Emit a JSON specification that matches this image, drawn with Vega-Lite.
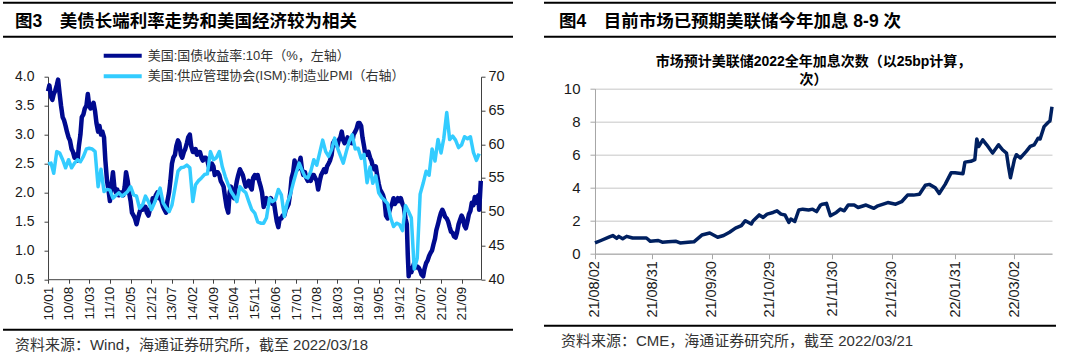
{
  "$schema": "https://vega.github.io/schema/vega-lite/v6.json",
  "background": "white",
  "padding": {"left": 2, "top": 1.7, "right": 0, "bottom": 0},
  "spacing": 28,
  "resolve": {"scale": {"color": "independent"}, "legend": {"color": "independent"}},
  "datasets": {
    "leftHeader": [{"t": "图3　美债长端利率走势和美国经济较为相关"}],
    "leftFooter": [{"t": "资料来源：Wind，海通证券研究所，截至 2022/03/18"}],
    "rightHeader": [{"t": "图4　目前市场已预期美联储今年加息 8-9 次"}],
    "rightFooter": [{"t": "资料来源：CME，海通证券研究所，截至 2022/03/21"}],
    "yield": [
      {"d":"2010-01-01","v":3.75},{"d":"2010-01-15","v":3.85},{"d":"2010-02-01","v":3.65},{"d":"2010-02-15","v":3.6},{"d":"2010-03-01","v":3.7},{"d":"2010-03-15","v":3.75},{"d":"2010-04-01","v":3.85},{"d":"2010-04-15","v":3.95},{"d":"2010-05-01","v":3.7},{"d":"2010-05-15","v":3.5},{"d":"2010-06-01","v":3.3},{"d":"2010-06-15","v":3.25},{"d":"2010-07-01","v":3.15},{"d":"2010-07-15","v":3.05},{"d":"2010-08-01","v":2.95},{"d":"2010-08-15","v":2.9},{"d":"2010-09-01","v":2.75},{"d":"2010-09-15","v":2.7},{"d":"2010-10-01","v":2.6},{"d":"2010-10-15","v":2.65},{"d":"2010-11-01","v":2.55},{"d":"2010-11-15","v":2.8},{"d":"2010-12-01","v":3.0},{"d":"2010-12-15","v":3.3},
      {"d":"2011-01-01","v":3.35},{"d":"2011-01-15","v":3.45},{"d":"2011-02-01","v":3.5},{"d":"2011-02-15","v":3.7},{"d":"2011-03-01","v":3.5},{"d":"2011-03-15","v":3.45},{"d":"2011-04-01","v":3.5},{"d":"2011-04-15","v":3.55},{"d":"2011-05-01","v":3.4},{"d":"2011-05-15","v":3.2},{"d":"2011-06-01","v":3.05},{"d":"2011-06-15","v":3.15},{"d":"2011-07-01","v":3.0},{"d":"2011-07-15","v":3.05},{"d":"2011-08-01","v":2.95},{"d":"2011-08-15","v":2.55},{"d":"2011-09-01","v":2.2},{"d":"2011-09-15","v":2.05},{"d":"2011-10-01","v":1.85},{"d":"2011-10-15","v":2.1},{"d":"2011-11-01","v":2.35},{"d":"2011-11-15","v":2.1},{"d":"2011-12-01","v":2.0},{"d":"2011-12-15","v":2.05},
      {"d":"2012-01-01","v":1.95},{"d":"2012-01-15","v":2.0},{"d":"2012-02-01","v":2.0},{"d":"2012-02-15","v":1.95},{"d":"2012-03-01","v":2.1},{"d":"2012-03-15","v":2.35},{"d":"2012-04-01","v":2.2},{"d":"2012-04-15","v":2.0},{"d":"2012-05-01","v":1.85},{"d":"2012-05-15","v":1.65},{"d":"2012-06-01","v":1.6},{"d":"2012-06-15","v":1.55},{"d":"2012-07-01","v":1.45},{"d":"2012-07-15","v":1.55},{"d":"2012-08-01","v":1.65},{"d":"2012-08-15","v":1.75},{"d":"2012-09-01","v":1.7},{"d":"2012-09-15","v":1.75},{"d":"2012-10-01","v":1.75},{"d":"2012-10-15","v":1.65},{"d":"2012-11-01","v":1.6},{"d":"2012-11-15","v":1.7},{"d":"2012-12-01","v":1.75},{"d":"2012-12-15","v":1.9},
      {"d":"2013-01-01","v":1.85},{"d":"2013-01-15","v":1.95},{"d":"2013-02-01","v":2.0},{"d":"2013-02-15","v":1.9},{"d":"2013-03-01","v":1.9},{"d":"2013-03-15","v":1.85},{"d":"2013-04-01","v":1.75},{"d":"2013-04-15","v":1.7},{"d":"2013-05-01","v":1.65},{"d":"2013-05-15","v":1.85},{"d":"2013-06-01","v":2.0},{"d":"2013-06-15","v":2.2},{"d":"2013-07-01","v":2.5},{"d":"2013-07-15","v":2.6},{"d":"2013-08-01","v":2.65},{"d":"2013-08-15","v":2.8},{"d":"2013-09-01","v":2.9},{"d":"2013-09-15","v":2.85},{"d":"2013-10-01","v":2.65},{"d":"2013-10-15","v":2.6},{"d":"2013-11-01","v":2.7},{"d":"2013-11-15","v":2.75},{"d":"2013-12-01","v":2.85},{"d":"2013-12-15","v":2.95},
      {"d":"2014-01-01","v":3.0},{"d":"2014-01-15","v":2.8},{"d":"2014-02-01","v":2.7},{"d":"2014-02-15","v":2.7},{"d":"2014-03-01","v":2.75},{"d":"2014-03-15","v":2.65},{"d":"2014-04-01","v":2.7},{"d":"2014-04-15","v":2.7},{"d":"2014-05-01","v":2.6},{"d":"2014-05-15","v":2.55},{"d":"2014-06-01","v":2.6},{"d":"2014-06-15","v":2.6},{"d":"2014-07-01","v":2.55},{"d":"2014-07-15","v":2.45},{"d":"2014-08-01","v":2.4},{"d":"2014-08-15","v":2.5},{"d":"2014-09-01","v":2.45},{"d":"2014-09-15","v":2.3},{"d":"2014-10-01","v":2.35},{"d":"2014-10-15","v":2.35},{"d":"2014-11-01","v":2.3},{"d":"2014-11-15","v":2.2},{"d":"2014-12-01","v":2.15},{"d":"2014-12-15","v":2.1},
      {"d":"2015-01-01","v":1.9},{"d":"2015-01-15","v":1.75},{"d":"2015-02-01","v":1.65},{"d":"2015-02-15","v":2.0},{"d":"2015-03-01","v":2.1},{"d":"2015-03-15","v":1.95},{"d":"2015-04-01","v":1.9},{"d":"2015-04-15","v":2.05},{"d":"2015-05-01","v":2.2},{"d":"2015-05-15","v":2.3},{"d":"2015-06-01","v":2.4},{"d":"2015-06-15","v":2.35},{"d":"2015-07-01","v":2.3},{"d":"2015-07-15","v":2.2},{"d":"2015-08-01","v":2.1},{"d":"2015-08-15","v":2.15},{"d":"2015-09-01","v":2.2},{"d":"2015-09-15","v":2.1},{"d":"2015-10-01","v":2.05},{"d":"2015-10-15","v":2.25},{"d":"2015-11-01","v":2.3},{"d":"2015-11-15","v":2.25},{"d":"2015-12-01","v":2.3},{"d":"2015-12-15","v":2.2},
      {"d":"2016-01-01","v":2.1},{"d":"2016-01-15","v":2.0},{"d":"2016-02-01","v":1.75},{"d":"2016-02-15","v":1.85},{"d":"2016-03-01","v":1.9},{"d":"2016-03-15","v":1.8},{"d":"2016-04-01","v":1.85},{"d":"2016-04-15","v":1.9},{"d":"2016-05-01","v":1.8},{"d":"2016-05-15","v":1.85},{"d":"2016-06-01","v":1.65},{"d":"2016-06-15","v":1.5},{"d":"2016-07-01","v":1.4},{"d":"2016-07-15","v":1.55},{"d":"2016-08-01","v":1.55},{"d":"2016-08-15","v":1.6},{"d":"2016-09-01","v":1.6},{"d":"2016-09-15","v":1.7},{"d":"2016-10-01","v":1.75},{"d":"2016-10-15","v":1.8},{"d":"2016-11-01","v":2.0},{"d":"2016-11-15","v":2.25},{"d":"2016-12-01","v":2.35},{"d":"2016-12-15","v":2.55},
      {"d":"2017-01-01","v":2.45},{"d":"2017-01-15","v":2.4},{"d":"2017-02-01","v":2.5},{"d":"2017-02-15","v":2.6},{"d":"2017-03-01","v":2.4},{"d":"2017-03-15","v":2.3},{"d":"2017-04-01","v":2.35},{"d":"2017-04-15","v":2.25},{"d":"2017-05-01","v":2.2},{"d":"2017-05-15","v":2.25},{"d":"2017-06-01","v":2.2},{"d":"2017-06-15","v":2.3},{"d":"2017-07-01","v":2.3},{"d":"2017-07-15","v":2.25},{"d":"2017-08-01","v":2.2},{"d":"2017-08-15","v":2.05},{"d":"2017-09-01","v":2.2},{"d":"2017-09-15","v":2.3},{"d":"2017-10-01","v":2.35},{"d":"2017-10-15","v":2.4},{"d":"2017-11-01","v":2.35},{"d":"2017-11-15","v":2.45},{"d":"2017-12-01","v":2.5},{"d":"2017-12-15","v":2.55},
      {"d":"2018-01-01","v":2.65},{"d":"2018-01-15","v":2.85},{"d":"2018-02-01","v":2.9},{"d":"2018-02-15","v":2.85},{"d":"2018-03-01","v":2.8},{"d":"2018-03-15","v":2.9},{"d":"2018-04-01","v":2.95},{"d":"2018-04-15","v":3.05},{"d":"2018-05-01","v":2.9},{"d":"2018-05-15","v":2.85},{"d":"2018-06-01","v":2.9},{"d":"2018-06-15","v":2.95},{"d":"2018-07-01","v":2.85},{"d":"2018-07-15","v":2.9},{"d":"2018-08-01","v":2.85},{"d":"2018-08-15","v":3.0},{"d":"2018-09-01","v":3.05},{"d":"2018-09-15","v":3.1},{"d":"2018-10-01","v":3.2},{"d":"2018-10-15","v":3.2},{"d":"2018-11-01","v":3.15},{"d":"2018-11-15","v":2.95},{"d":"2018-12-01","v":2.8},{"d":"2018-12-15","v":2.65},
      {"d":"2019-01-01","v":2.65},{"d":"2019-01-15","v":2.7},{"d":"2019-02-01","v":2.6},{"d":"2019-02-15","v":2.55},{"d":"2019-03-01","v":2.45},{"d":"2019-03-15","v":2.4},{"d":"2019-04-01","v":2.45},{"d":"2019-04-15","v":2.3},{"d":"2019-05-01","v":2.15},{"d":"2019-05-15","v":2.05},{"d":"2019-06-01","v":2.0},{"d":"2019-06-15","v":1.95},{"d":"2019-07-01","v":1.85},{"d":"2019-07-15","v":1.6},{"d":"2019-08-01","v":1.55},{"d":"2019-08-15","v":1.65},{"d":"2019-09-01","v":1.75},{"d":"2019-09-15","v":1.8},{"d":"2019-10-01","v":1.9},{"d":"2019-10-15","v":1.8},{"d":"2019-11-01","v":1.85},{"d":"2019-11-15","v":1.9},{"d":"2019-12-01","v":1.85},{"d":"2019-12-15","v":1.9},
      {"d":"2020-01-01","v":1.8},{"d":"2020-01-15","v":1.75},{"d":"2020-02-01","v":1.55},{"d":"2020-02-15","v":1.45},{"d":"2020-02-25","v":0.9},{"d":"2020-03-05","v":0.55},{"d":"2020-03-15","v":0.7},{"d":"2020-04-01","v":0.62},{"d":"2020-04-15","v":0.7},{"d":"2020-05-01","v":0.78},{"d":"2020-05-15","v":0.7},{"d":"2020-06-01","v":0.72},{"d":"2020-06-15","v":0.7},{"d":"2020-07-01","v":0.65},{"d":"2020-07-15","v":0.58},{"d":"2020-08-01","v":0.55},{"d":"2020-08-15","v":0.68},{"d":"2020-09-01","v":0.78},{"d":"2020-09-15","v":0.82},{"d":"2020-10-01","v":0.9},{"d":"2020-10-15","v":0.95},{"d":"2020-11-01","v":1.0},{"d":"2020-11-15","v":1.1},{"d":"2020-12-01","v":1.2},{"d":"2020-12-15","v":1.35},
      {"d":"2021-01-01","v":1.45},{"d":"2021-01-15","v":1.55},{"d":"2021-02-01","v":1.65},{"d":"2021-02-15","v":1.7},{"d":"2021-03-01","v":1.65},{"d":"2021-03-15","v":1.58},{"d":"2021-04-01","v":1.55},{"d":"2021-04-15","v":1.5},{"d":"2021-05-01","v":1.4},{"d":"2021-05-15","v":1.32},{"d":"2021-06-01","v":1.3},{"d":"2021-06-15","v":1.24},{"d":"2021-07-01","v":1.22},{"d":"2021-07-15","v":1.3},{"d":"2021-08-01","v":1.45},{"d":"2021-08-15","v":1.52},{"d":"2021-09-01","v":1.6},{"d":"2021-09-15","v":1.55},{"d":"2021-10-01","v":1.42},{"d":"2021-10-15","v":1.38},{"d":"2021-11-01","v":1.5},{"d":"2021-11-15","v":1.62},{"d":"2021-12-01","v":1.68},{"d":"2021-12-15","v":1.82},
      {"d":"2022-01-01","v":1.78},{"d":"2022-01-15","v":1.92},{"d":"2022-02-01","v":1.82},{"d":"2022-02-20","v":1.95},{"d":"2022-03-01","v":1.7},{"d":"2022-03-10","v":1.95},{"d":"2022-03-18","v":2.2}
    ],
    "pmi": [
      {"d":"2010-01-01","v":57.1},{"d":"2010-02-01","v":57.2},{"d":"2010-03-01","v":55.7},{"d":"2010-04-01","v":58.9},{"d":"2010-05-01","v":58.7},{"d":"2010-06-01","v":57.7},{"d":"2010-07-01","v":56.5},{"d":"2010-08-01","v":57.7},{"d":"2010-09-01","v":56.5},{"d":"2010-10-01","v":57.2},{"d":"2010-11-01","v":57.7},{"d":"2010-12-01","v":57.4},
      {"d":"2011-01-01","v":58.2},{"d":"2011-02-01","v":59.3},{"d":"2011-03-01","v":59.4},{"d":"2011-04-01","v":59.3},{"d":"2011-05-01","v":58.9},{"d":"2011-06-01","v":53.7},{"d":"2011-07-01","v":56.3},{"d":"2011-08-01","v":53.0},{"d":"2011-09-01","v":53.3},{"d":"2011-10-01","v":53.2},{"d":"2011-11-01","v":52.0},{"d":"2011-12-01","v":52.4},
      {"d":"2012-01-01","v":52.8},{"d":"2012-02-01","v":52.3},{"d":"2012-03-01","v":52.6},{"d":"2012-04-01","v":53.0},{"d":"2012-05-01","v":53.7},{"d":"2012-06-01","v":52.5},{"d":"2012-07-01","v":52.3},{"d":"2012-08-01","v":50.5},{"d":"2012-09-01","v":51.0},{"d":"2012-10-01","v":52.3},{"d":"2012-11-01","v":51.5},{"d":"2012-12-01","v":50.3},
      {"d":"2013-01-01","v":51.3},{"d":"2013-02-01","v":52.5},{"d":"2013-03-01","v":53.5},{"d":"2013-04-01","v":51.3},{"d":"2013-05-01","v":50.6},{"d":"2013-06-01","v":50.0},{"d":"2013-07-01","v":51.0},{"d":"2013-08-01","v":53.5},{"d":"2013-09-01","v":56.0},{"d":"2013-10-01","v":56.5},{"d":"2013-11-01","v":56.6},{"d":"2013-12-01","v":56.9},
      {"d":"2014-01-01","v":56.5},{"d":"2014-02-01","v":51.5},{"d":"2014-03-01","v":54.0},{"d":"2014-04-01","v":54.6},{"d":"2014-05-01","v":55.0},{"d":"2014-06-01","v":55.5},{"d":"2014-07-01","v":55.6},{"d":"2014-08-01","v":58.9},{"d":"2014-09-01","v":57.7},{"d":"2014-10-01","v":58.0},{"d":"2014-11-01","v":58.9},{"d":"2014-12-01","v":56.7},
      {"d":"2015-01-01","v":55.2},{"d":"2015-02-01","v":54.0},{"d":"2015-03-01","v":53.0},{"d":"2015-04-01","v":52.3},{"d":"2015-05-01","v":51.5},{"d":"2015-06-01","v":53.7},{"d":"2015-07-01","v":53.2},{"d":"2015-08-01","v":52.8},{"d":"2015-09-01","v":51.5},{"d":"2015-10-01","v":50.3},{"d":"2015-11-01","v":49.8},{"d":"2015-12-01","v":48.5},
      {"d":"2016-01-01","v":48.3},{"d":"2016-02-01","v":48.3},{"d":"2016-03-01","v":49.1},{"d":"2016-04-01","v":52.0},{"d":"2016-05-01","v":51.5},{"d":"2016-06-01","v":51.8},{"d":"2016-07-01","v":53.3},{"d":"2016-08-01","v":52.5},{"d":"2016-09-01","v":49.3},{"d":"2016-10-01","v":51.3},{"d":"2016-11-01","v":52.5},{"d":"2016-12-01","v":54.2},
      {"d":"2017-01-01","v":55.8},{"d":"2017-02-01","v":57.2},{"d":"2017-03-01","v":56.2},{"d":"2017-04-01","v":55.2},{"d":"2017-05-01","v":55.0},{"d":"2017-06-01","v":56.0},{"d":"2017-07-01","v":57.7},{"d":"2017-08-01","v":56.9},{"d":"2017-09-01","v":58.8},{"d":"2017-10-01","v":60.6},{"d":"2017-11-01","v":58.9},{"d":"2017-12-01","v":58.2},
      {"d":"2018-01-01","v":59.2},{"d":"2018-02-01","v":60.9},{"d":"2018-03-01","v":59.5},{"d":"2018-04-01","v":58.3},{"d":"2018-05-01","v":57.2},{"d":"2018-06-01","v":58.9},{"d":"2018-07-01","v":60.4},{"d":"2018-08-01","v":61.4},{"d":"2018-09-01","v":59.3},{"d":"2018-10-01","v":59.4},{"d":"2018-11-01","v":57.9},{"d":"2018-12-01","v":58.5},
      {"d":"2019-01-01","v":54.3},{"d":"2019-02-01","v":56.6},{"d":"2019-03-01","v":54.2},{"d":"2019-04-01","v":55.3},{"d":"2019-05-01","v":52.8},{"d":"2019-06-01","v":52.1},{"d":"2019-07-01","v":51.7},{"d":"2019-08-01","v":51.2},{"d":"2019-09-01","v":49.1},{"d":"2019-10-01","v":47.8},{"d":"2019-11-01","v":48.3},{"d":"2019-12-01","v":48.1},
      {"d":"2020-01-01","v":47.2},{"d":"2020-02-01","v":50.9},{"d":"2020-03-01","v":50.1},{"d":"2020-04-01","v":49.1},{"d":"2020-05-01","v":41.5},{"d":"2020-06-01","v":43.1},{"d":"2020-07-01","v":52.6},{"d":"2020-08-01","v":54.2},{"d":"2020-09-01","v":56.0},{"d":"2020-10-01","v":55.4},{"d":"2020-11-01","v":59.3},{"d":"2020-12-01","v":57.5},
      {"d":"2021-01-01","v":60.7},{"d":"2021-02-01","v":58.7},{"d":"2021-03-01","v":60.8},{"d":"2021-04-01","v":64.7},{"d":"2021-05-01","v":60.7},{"d":"2021-06-01","v":61.2},{"d":"2021-07-01","v":60.6},{"d":"2021-08-01","v":59.5},{"d":"2021-09-01","v":59.9},{"d":"2021-10-01","v":61.1},{"d":"2021-11-01","v":60.8},{"d":"2021-12-01","v":61.1},
      {"d":"2022-01-01","v":58.8},{"d":"2022-02-01","v":57.6},{"d":"2022-03-01","v":58.6}
    ],
    "hikes": [
      {"d":"2021-08-02","v":0.65},{"d":"2021-08-05","v":0.8},{"d":"2021-08-09","v":1.0},{"d":"2021-08-11","v":1.1},{"d":"2021-08-13","v":0.93},{"d":"2021-08-14","v":1.05},{"d":"2021-08-16","v":0.9},{"d":"2021-08-18","v":1.05},{"d":"2021-08-21","v":0.95},{"d":"2021-08-25","v":0.95},{"d":"2021-08-28","v":0.95},{"d":"2021-08-30","v":0.75},{"d":"2021-09-03","v":0.8},{"d":"2021-09-05","v":0.7},{"d":"2021-09-08","v":0.72},{"d":"2021-09-12","v":0.75},{"d":"2021-09-14","v":0.65},{"d":"2021-09-18","v":0.7},{"d":"2021-09-21","v":0.72},{"d":"2021-09-25","v":1.13},{"d":"2021-09-29","v":1.25},
      {"d":"2021-10-03","v":1.0},{"d":"2021-10-06","v":1.1},{"d":"2021-10-09","v":1.3},{"d":"2021-10-12","v":1.55},{"d":"2021-10-15","v":1.7},{"d":"2021-10-17","v":2.0},{"d":"2021-10-20","v":1.8},{"d":"2021-10-21","v":2.0},{"d":"2021-10-24","v":2.35},{"d":"2021-10-26","v":2.2},{"d":"2021-10-28","v":2.4},{"d":"2021-10-31","v":2.5},
      {"d":"2021-11-02","v":2.6},{"d":"2021-11-04","v":2.4},{"d":"2021-11-06","v":2.35},{"d":"2021-11-08","v":1.9},{"d":"2021-11-09","v":2.1},{"d":"2021-11-11","v":1.95},{"d":"2021-11-13","v":2.65},{"d":"2021-11-15","v":2.7},{"d":"2021-11-18","v":2.65},{"d":"2021-11-20","v":2.7},{"d":"2021-11-22","v":2.55},{"d":"2021-11-24","v":2.95},{"d":"2021-11-25","v":3.0},{"d":"2021-11-27","v":3.05},{"d":"2021-11-29","v":2.3},
      {"d":"2021-12-02","v":2.5},{"d":"2021-12-04","v":2.7},{"d":"2021-12-06","v":2.6},{"d":"2021-12-08","v":2.95},{"d":"2021-12-11","v":2.95},{"d":"2021-12-13","v":2.8},{"d":"2021-12-17","v":2.95},{"d":"2021-12-21","v":2.75},{"d":"2021-12-23","v":2.9},{"d":"2021-12-28","v":3.1},
      {"d":"2022-01-01","v":3.0},{"d":"2022-01-04","v":3.15},{"d":"2022-01-07","v":3.55},{"d":"2022-01-10","v":3.55},{"d":"2022-01-13","v":3.6},{"d":"2022-01-16","v":4.15},{"d":"2022-01-18","v":4.2},{"d":"2022-01-21","v":4.0},{"d":"2022-01-23","v":3.65},{"d":"2022-01-26","v":4.2},{"d":"2022-01-29","v":4.9},{"d":"2022-01-31","v":4.9},
      {"d":"2022-02-04","v":4.85},{"d":"2022-02-05","v":5.55},{"d":"2022-02-08","v":5.6},{"d":"2022-02-10","v":5.7},{"d":"2022-02-11","v":6.95},{"d":"2022-02-12","v":6.5},{"d":"2022-02-14","v":6.9},{"d":"2022-02-16","v":6.6},{"d":"2022-02-19","v":6.1},{"d":"2022-02-22","v":6.6},{"d":"2022-02-24","v":6.3},{"d":"2022-02-26","v":6.1},{"d":"2022-02-27","v":5.3},{"d":"2022-02-28","v":4.6},
      {"d":"2022-03-02","v":5.7},{"d":"2022-03-03","v":6.0},{"d":"2022-03-05","v":5.8},{"d":"2022-03-08","v":6.2},{"d":"2022-03-10","v":6.5},{"d":"2022-03-12","v":6.6},{"d":"2022-03-14","v":7.0},{"d":"2022-03-15","v":6.95},{"d":"2022-03-17","v":7.7},{"d":"2022-03-19","v":7.95},{"d":"2022-03-20","v":8.05},{"d":"2022-03-21","v":8.9}
    ]
  },
  "hconcat": [
    {
      "spacing": 0,
      "resolve": {"scale": {"color": "independent"}, "legend": {"color": "independent"}},
      "vconcat": [
        {
          "width": 433, "height": 46,
          "data": {"name": "leftHeader"},
          "layer": [
            {"mark": {"type": "rule", "color": "#000000", "strokeWidth": 2},
             "encoding": {
               "x": {"datum": -45, "type": "quantitative", "scale": {"domain": [0, 433], "nice": false, "zero": false}, "axis": null},
               "x2": {"datum": 465},
               "y": {"datum": 0, "type": "quantitative", "scale": {"domain": [0, 46], "nice": false, "zero": false, "reverse": true}, "axis": null},
               "y2": {"datum": 0}}},
            {"mark": {"type": "rule", "color": "#000000", "strokeWidth": 2},
             "encoding": {
               "x": {"datum": -45, "type": "quantitative", "axis": null},
               "x2": {"datum": 465},
               "y": {"datum": 34, "type": "quantitative", "axis": null},
               "y2": {"datum": 34}}},
            {"mark": {"type": "text", "align": "left", "baseline": "middle", "fontSize": 17.5, "fontWeight": "bold", "color": "#000000"},
             "encoding": {
               "x": {"datum": -33, "type": "quantitative", "axis": null},
               "y": {"datum": 19, "type": "quantitative", "axis": null},
               "text": {"field": "t"}}}
          ]
        },
        {
          "width": 433, "height": 202.5,
          "layer": [
            {"data": {"name": "yield"},
             "mark": {"type": "line", "strokeWidth": 4.5, "strokeJoin": "round"},
             "encoding": {
               "x": {"field": "d", "type": "temporal",
                     "scale": {"type": "utc", "nice": false, "domain": [{"year": 2010, "month": 1, "date": 1, "utc": true}, {"year": 2022, "month": 3, "date": 20, "utc": true}]},
                     "axis": {"title": null, "grid": false, "format": "%y/%m", "labelAngle": 270,
                              "values": [
                                {"year": 2010, "month": 1, "date": 1, "utc": true}, {"year": 2010, "month": 8, "date": 1, "utc": true},
                                {"year": 2011, "month": 3, "date": 1, "utc": true}, {"year": 2011, "month": 10, "date": 1, "utc": true},
                                {"year": 2012, "month": 5, "date": 1, "utc": true}, {"year": 2012, "month": 12, "date": 1, "utc": true},
                                {"year": 2013, "month": 7, "date": 1, "utc": true}, {"year": 2014, "month": 2, "date": 1, "utc": true},
                                {"year": 2014, "month": 9, "date": 1, "utc": true}, {"year": 2015, "month": 4, "date": 1, "utc": true},
                                {"year": 2015, "month": 11, "date": 1, "utc": true}, {"year": 2016, "month": 6, "date": 1, "utc": true},
                                {"year": 2017, "month": 1, "date": 1, "utc": true}, {"year": 2017, "month": 8, "date": 1, "utc": true},
                                {"year": 2018, "month": 3, "date": 1, "utc": true}, {"year": 2018, "month": 10, "date": 1, "utc": true},
                                {"year": 2019, "month": 5, "date": 1, "utc": true}, {"year": 2019, "month": 12, "date": 1, "utc": true},
                                {"year": 2020, "month": 7, "date": 1, "utc": true}, {"year": 2021, "month": 2, "date": 1, "utc": true},
                                {"year": 2021, "month": 9, "date": 1, "utc": true}],
                              "domainColor": "#404040", "tickColor": "#404040", "tickSize": 4, "labelPadding": 3,
                              "labelFontSize": 13.5, "labelColor": "#1a1a1a", "minExtent": 49,
                              "labelOverlap": false, "labelSeparation": 0, "labelFlush": false, "labelBound": false}},
               "y": {"field": "v", "type": "quantitative",
                     "scale": {"domain": [0.5, 4.0], "nice": false, "zero": false},
                     "axis": {"orient": "left", "title": null, "grid": false, "format": ".1f",
                              "values": [0.5, 1, 1.5, 2, 2.5, 3, 3.5, 4],
                              "domainColor": "#404040", "tickColor": "#404040", "tickSize": 4, "labelPadding": 10,
                              "labelFontSize": 14, "labelColor": "#1a1a1a", "minExtent": 46}},
               "color": {"datum": "美国:国债收益率:10年（%，左轴）", "type": "nominal",
                         "scale": {"domain": ["美国:国债收益率:10年（%，左轴）", "美国:供应管理协会(ISM):制造业PMI（右轴）"], "range": ["#000a8f", "#33ccff"]},
                         "legend": {"orient": "none", "legendX": 53.7, "legendY": -28, "title": null, "direction": "vertical",
                                    "symbolType": "stroke", "symbolSize": 1444, "symbolStrokeWidth": 4, "clipHeight": 14,
                                    "rowPadding": 6.5, "labelFontSize": 13, "labelColor": "#333333", "labelOffset": 4,
                                    "padding": 0, "labelLimit": 500}}
             }},
            {"data": {"name": "pmi"},
             "mark": {"type": "line", "strokeWidth": 3.5, "strokeJoin": "round"},
             "encoding": {
               "x": {"field": "d", "type": "temporal",
                     "axis": {"title": null, "grid": false, "format": "%y/%m", "labelAngle": 270,
                              "values": [
                                {"year": 2010, "month": 1, "date": 1, "utc": true}, {"year": 2010, "month": 8, "date": 1, "utc": true},
                                {"year": 2011, "month": 3, "date": 1, "utc": true}, {"year": 2011, "month": 10, "date": 1, "utc": true},
                                {"year": 2012, "month": 5, "date": 1, "utc": true}, {"year": 2012, "month": 12, "date": 1, "utc": true},
                                {"year": 2013, "month": 7, "date": 1, "utc": true}, {"year": 2014, "month": 2, "date": 1, "utc": true},
                                {"year": 2014, "month": 9, "date": 1, "utc": true}, {"year": 2015, "month": 4, "date": 1, "utc": true},
                                {"year": 2015, "month": 11, "date": 1, "utc": true}, {"year": 2016, "month": 6, "date": 1, "utc": true},
                                {"year": 2017, "month": 1, "date": 1, "utc": true}, {"year": 2017, "month": 8, "date": 1, "utc": true},
                                {"year": 2018, "month": 3, "date": 1, "utc": true}, {"year": 2018, "month": 10, "date": 1, "utc": true},
                                {"year": 2019, "month": 5, "date": 1, "utc": true}, {"year": 2019, "month": 12, "date": 1, "utc": true},
                                {"year": 2020, "month": 7, "date": 1, "utc": true}, {"year": 2021, "month": 2, "date": 1, "utc": true},
                                {"year": 2021, "month": 9, "date": 1, "utc": true}],
                              "domainColor": "#404040", "tickColor": "#404040", "tickSize": 4, "labelPadding": 3,
                              "labelFontSize": 13.5, "labelColor": "#1a1a1a", "minExtent": 49,
                              "labelOverlap": false, "labelSeparation": 0, "labelFlush": false, "labelBound": false}},
               "y": {"field": "v", "type": "quantitative",
                     "scale": {"domain": [40, 70], "nice": false, "zero": false},
                     "axis": {"orient": "right", "title": null, "grid": false,
                              "values": [40, 45, 50, 55, 60, 65, 70],
                              "domainColor": "#404040", "tickColor": "#404040", "tickSize": 4, "labelPadding": 3,
                              "labelFontSize": 14.5, "labelColor": "#1a1a1a"}},
               "color": {"datum": "美国:供应管理协会(ISM):制造业PMI（右轴）", "type": "nominal"}
             }}
          ],
          "resolve": {"scale": {"y": "independent"}}
        },
        {
          "width": 433, "height": 28,
          "data": {"name": "leftFooter"},
          "layer": [
            {"mark": {"type": "rule", "color": "#000000", "strokeWidth": 2},
             "encoding": {
               "x": {"datum": -45, "type": "quantitative", "scale": {"domain": [0, 433], "nice": false, "zero": false}, "axis": null},
               "x2": {"datum": 465},
               "y": {"datum": 1, "type": "quantitative", "scale": {"domain": [0, 28], "nice": false, "zero": false, "reverse": true}, "axis": null},
               "y2": {"datum": 1}}},
            {"mark": {"type": "text", "align": "left", "baseline": "middle", "fontSize": 15, "color": "#333333"},
             "encoding": {
               "x": {"datum": -33, "type": "quantitative", "axis": null},
               "y": {"datum": 16, "type": "quantitative", "axis": null},
               "text": {"field": "t"}}}
          ]
        }
      ]
    },
    {
      "spacing": 0,
      "vconcat": [
        {
          "width": 457, "height": 52,
          "data": {"name": "rightHeader"},
          "layer": [
            {"mark": {"type": "rule", "color": "#000000", "strokeWidth": 2},
             "encoding": {
               "x": {"datum": -51, "type": "quantitative", "scale": {"domain": [0, 457], "nice": false, "zero": false}, "axis": null},
               "x2": {"datum": 461},
               "y": {"datum": 0, "type": "quantitative", "scale": {"domain": [0, 52], "nice": false, "zero": false, "reverse": true}, "axis": null},
               "y2": {"datum": 0}}},
            {"mark": {"type": "rule", "color": "#000000", "strokeWidth": 2},
             "encoding": {
               "x": {"datum": -51, "type": "quantitative", "axis": null},
               "x2": {"datum": 461},
               "y": {"datum": 34, "type": "quantitative", "axis": null},
               "y2": {"datum": 34}}},
            {"mark": {"type": "text", "align": "left", "baseline": "middle", "fontSize": 17.5, "fontWeight": "bold", "color": "#000000"},
             "encoding": {
               "x": {"datum": -36, "type": "quantitative", "axis": null},
               "y": {"datum": 19, "type": "quantitative", "axis": null},
               "text": {"field": "t"}}}
          ]
        },
        {
          "width": 457, "height": 165,
          "title": {"text": ["市场预计美联储2022全年加息次数（以25bp计算，", "次）"], "fontSize": 14, "fontWeight": "bold",
                    "lineHeight": 18.3, "offset": -5.5, "dx": -10, "color": "#000000", "anchor": "middle"},
          "data": {"name": "hikes"},
          "mark": {"type": "line", "color": "#002060", "strokeWidth": 3.5, "strokeJoin": "round"},
          "encoding": {
            "x": {"field": "d", "type": "temporal",
                  "scale": {"type": "utc", "nice": false, "domain": [{"year": 2021, "month": 8, "date": 2, "utc": true}, {"year": 2022, "month": 3, "date": 21, "utc": true}]},
                  "axis": {"title": null, "grid": false, "format": "%y/%m/%d", "labelAngle": 270,
                           "values": [
                             {"year": 2021, "month": 8, "date": 2, "utc": true}, {"year": 2021, "month": 8, "date": 31, "utc": true},
                             {"year": 2021, "month": 9, "date": 30, "utc": true}, {"year": 2021, "month": 10, "date": 29, "utc": true},
                             {"year": 2021, "month": 11, "date": 30, "utc": true}, {"year": 2021, "month": 12, "date": 30, "utc": true},
                             {"year": 2022, "month": 1, "date": 31, "utc": true}, {"year": 2022, "month": 3, "date": 2, "utc": true}],
                           "domainColor": "#a6a6a6", "tickColor": "#a6a6a6", "tickSize": 5, "labelPadding": 2,
                           "labelFontSize": 14.5, "labelColor": "#1a1a1a", "minExtent": 71,
                           "labelOverlap": false, "labelFlush": false, "labelBound": false}},
            "y": {"field": "v", "type": "quantitative",
                  "scale": {"domain": [0, 10], "nice": false},
                  "axis": {"title": null, "grid": true, "gridColor": "#d9d9d9", "gridWidth": 1.5,
                           "values": [0, 2, 4, 6, 8, 10],
                           "domainColor": "#a6a6a6", "tickColor": "#a6a6a6", "tickSize": 5, "labelPadding": 10,
                           "labelFontSize": 15, "labelColor": "#1a1a1a", "minExtent": 52}}
          }
        },
        {
          "width": 457, "height": 28,
          "data": {"name": "rightFooter"},
          "layer": [
            {"mark": {"type": "rule", "color": "#000000", "strokeWidth": 2},
             "encoding": {
               "x": {"datum": -51, "type": "quantitative", "scale": {"domain": [0, 457], "nice": false, "zero": false}, "axis": null},
               "x2": {"datum": 461},
               "y": {"datum": 1, "type": "quantitative", "scale": {"domain": [0, 28], "nice": false, "zero": false, "reverse": true}, "axis": null},
               "y2": {"datum": 1}}},
            {"mark": {"type": "text", "align": "left", "baseline": "middle", "fontSize": 15, "color": "#333333"},
             "encoding": {
               "x": {"datum": -34, "type": "quantitative", "axis": null},
               "y": {"datum": 16, "type": "quantitative", "axis": null},
               "text": {"field": "t"}}}
          ]
        }
      ]
    }
  ],
  "config": {
    "view": {"stroke": null},
    "font": "'Liberation Sans', 'Noto Sans CJK SC', sans-serif",
    "axis": {"labelFont": "'Liberation Sans', 'Noto Sans CJK SC', sans-serif", "labelOverlap": false},
    "legend": {"labelFont": "'Liberation Sans', 'Noto Sans CJK SC', sans-serif"},
    "title": {"font": "'Liberation Sans', 'Noto Sans CJK SC', sans-serif"},
    "text": {"font": "'Liberation Sans', 'Noto Sans CJK SC', sans-serif"}
  }
}
